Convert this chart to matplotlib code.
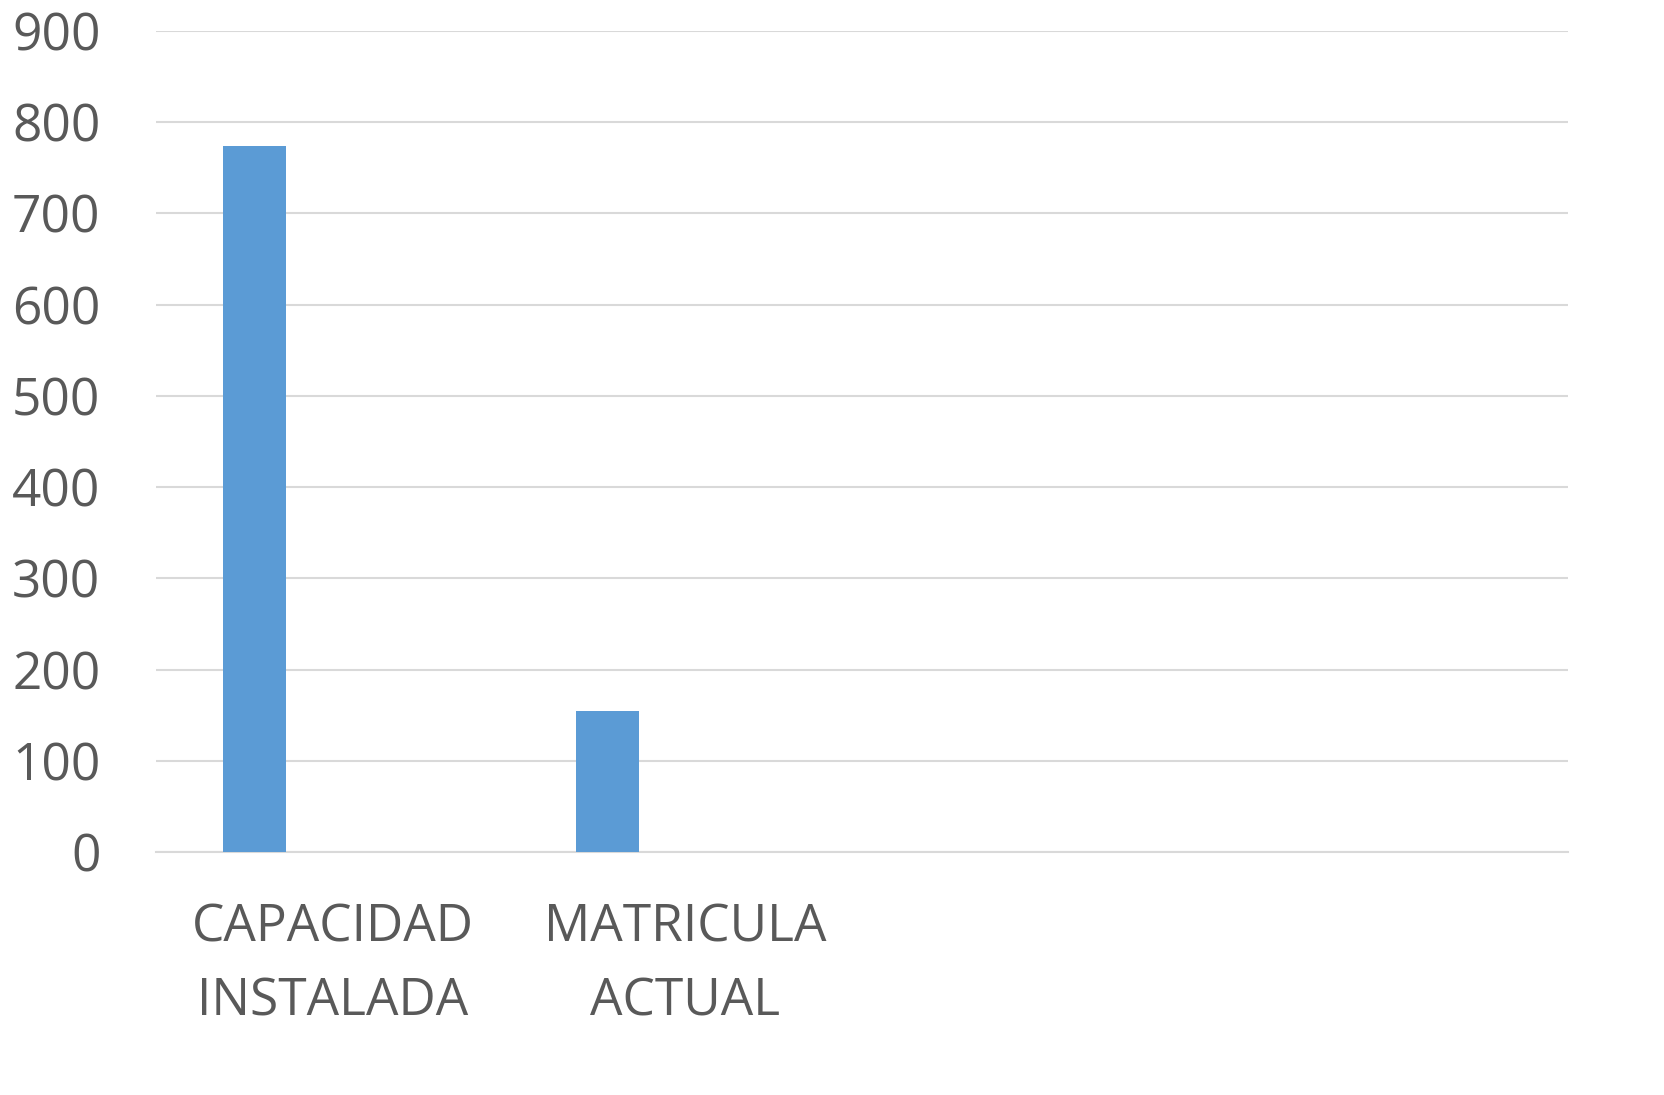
import numpy as np
import matplotlib.pyplot as plt

# data
categories = ["CAPACIDAD\nINSTALADA", "MATRICULA\nACTUAL", "", ""]
values = [774, 155, 0, 0]
yticks = [0, 100, 200, 300, 400, 500, 600, 700, 800, 900]

plt.rcParams['font.family'] = ['Open Sans', 'DejaVu Sans']

fig = plt.figure(figsize=(16.64, 10.95), dpi=100)
ax = fig.add_axes([0.09375, 0.2219, 0.8486, 0.7498])

x = np.arange(len(categories))
ax.bar(x[:2] - 0.221, values[:2], width=0.176, color="#5b9bd5", zorder=3)

ax.set_xlim(-0.5, len(categories) - 0.5)
ax.set_ylim(0, 900)
ax.set_yticks(yticks)
ax.set_xticks(x)
ax.set_xticklabels(categories, fontsize=37, color="#595959", linespacing=1.6)
ax.tick_params(axis="y", labelsize=37, labelcolor="#595959", length=0, pad=40)
ax.tick_params(axis="x", length=0, pad=36)

ax.grid(axis="y", color="#d9d9d9", linewidth=1.5, zorder=0)
for side in ["top", "right", "left"]:
    ax.spines[side].set_visible(False)
ax.spines["bottom"].set_color("#d9d9d9")
ax.spines["bottom"].set_linewidth(1.5)

fig.savefig("out.png", dpi=100)
